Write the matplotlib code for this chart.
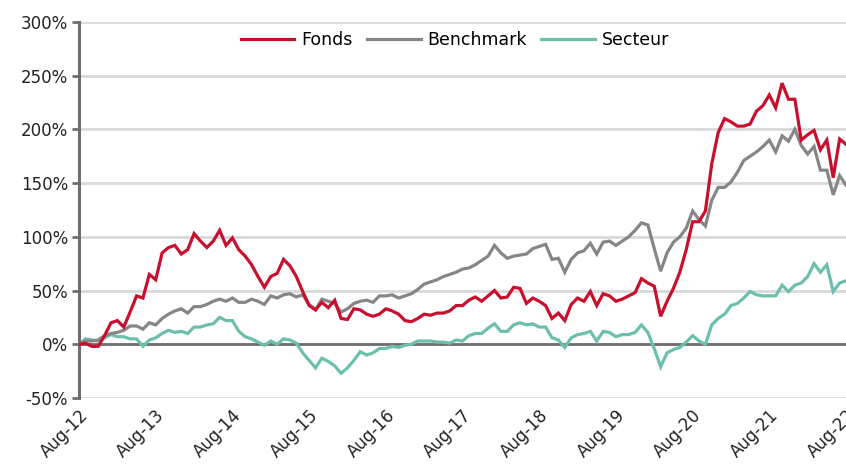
import numpy as np
import pandas as pd
import matplotlib
matplotlib.use("Agg")
import matplotlib.pyplot as plt

# monthly cumulative performance (%) from Aug-12 to Aug-22
fonds = [0, 1, -2, -2, 8, 20, 22, 16, 30, 45, 43, 65, 60, 85, 90, 92, 84, 88, 103, 96,
         90, 96, 106, 92, 99, 88, 82, 74, 63, 53, 63, 66, 79, 73, 63, 49, 36, 32, 39, 34,
         41, 24, 23, 33, 32, 28, 26, 28, 33, 31, 28, 22, 21, 24, 28, 27, 29, 29, 31, 36,
         36, 41, 44, 40, 45, 50, 43, 44, 53, 52, 38, 43, 40, 36, 24, 29, 22, 37, 43, 40,
         49, 36, 47, 45, 40, 42, 45, 48, 61, 57, 54, 26, 40, 52, 67, 88, 114, 114, 124, 168,
         197, 210, 207, 203, 203, 205, 217, 222, 232, 220, 243, 228, 228, 190, 195, 199, 181, 190, 155, 191,
         186]
benchmark = [0, 3, 3, 4, 8, 10, 11, 13, 17, 17, 14, 20, 18, 24, 28, 31, 33, 29, 35, 35,
             37, 40, 42, 40, 43, 39, 39, 42, 40, 37, 45, 43, 46, 47, 44, 46, 37, 32, 42, 40,
             38, 30, 33, 38, 40, 41, 39, 45, 45, 46, 43, 45, 47, 51, 56, 58, 60, 63, 65, 67,
             70, 71, 74, 78, 82, 92, 85, 80, 82, 83, 84, 89, 91, 93, 79, 80, 67, 79, 85, 87,
             94, 84, 95, 96, 92, 96, 100, 106, 113, 111, 89, 68, 85, 95, 100, 108, 124, 116, 110, 134,
             146, 146, 151, 160, 171, 175, 179, 184, 190, 179, 194, 189, 200, 185, 177, 184, 162, 162, 139, 157,
             148]
secteur = [0, 5, 4, 3, 6, 9, 7, 7, 5, 5, -2, 4, 6, 10, 13, 11, 12, 10, 16, 16,
           18, 19, 25, 22, 22, 12, 7, 5, 2, -1, 3, 0, 5, 4, 1, -8, -15, -22, -13, -16,
           -20, -27, -22, -15, -7, -10, -8, -4, -4, -2, -3, -1, 0, 3, 3, 3, 2, 2, 1, 4,
           3, 8, 10, 10, 15, 19, 12, 12, 18, 20, 18, 19, 16, 16, 6, 4, -3, 6, 9, 10,
           12, 3, 12, 11, 7, 9, 9, 11, 18, 11, -4, -21, -8, -5, -3, 2, 8, 3, 0, 18,
           24, 28, 36, 38, 43, 49, 46, 45, 45, 45, 55, 49, 55, 57, 63, 75, 67, 74, 49, 57,
           59]
months = pd.date_range("2012-08-01", periods=len(fonds), freq="MS")
tick_labels = ["Aug-12", "Aug-13", "Aug-14", "Aug-15", "Aug-16", "Aug-17",
               "Aug-18", "Aug-19", "Aug-20", "Aug-21", "Aug-22"]

plt.rcParams['font.family'] = ['DejaVu Sans']

fig = plt.figure(figsize=(8.46, 4.66), dpi=100)
ax = fig.add_axes([0.0934, 0.146, 0.9066, 0.807])

x = np.arange(len(fonds))
ax.plot(x, fonds, color='#C8102E', lw=2.3, label='Fonds', zorder=4, solid_joinstyle='miter')
ax.plot(x, benchmark, color='#868686', lw=2.3, label='Benchmark', zorder=3, solid_joinstyle='miter')
ax.plot(x, secteur, color='#6DBFAD', lw=2.3, label='Secteur', zorder=2, solid_joinstyle='miter')

ax.set_xlim(0, 120)
ax.set_ylim(-50, 300)
ax.set_yticks(np.arange(-50, 301, 50))
ax.set_yticklabels([f"{v}%" for v in range(-50, 301, 50)], fontsize=12, color='#222222')
ax.yaxis.grid(True, color='#d9d9d9', lw=2)
ax.set_axisbelow(True)
ax.axhline(0, color='#6e6e6e', lw=2, zorder=1)

ax.set_xticks(np.arange(0, 121, 12))
ax.set_xticklabels(tick_labels, rotation=45, ha='right', rotation_mode='anchor',
                   fontsize=12, color='#222222')
ax.tick_params(axis='x', length=0, pad=6)
ax.tick_params(axis='y', length=5, width=2, color='#6e6e6e', pad=3)

for s in ['top', 'right', 'bottom']:
    ax.spines[s].set_visible(False)
ax.spines['left'].set_color('#6e6e6e')
ax.spines['left'].set_linewidth(2.2)

ax.legend(loc='center', bbox_to_anchor=(0.49, 0.952), ncol=3, frameon=False,
          fontsize=12.5, handlelength=3.1, columnspacing=0.8, handletextpad=0.4)

fig.savefig("out.png", dpi=100)
